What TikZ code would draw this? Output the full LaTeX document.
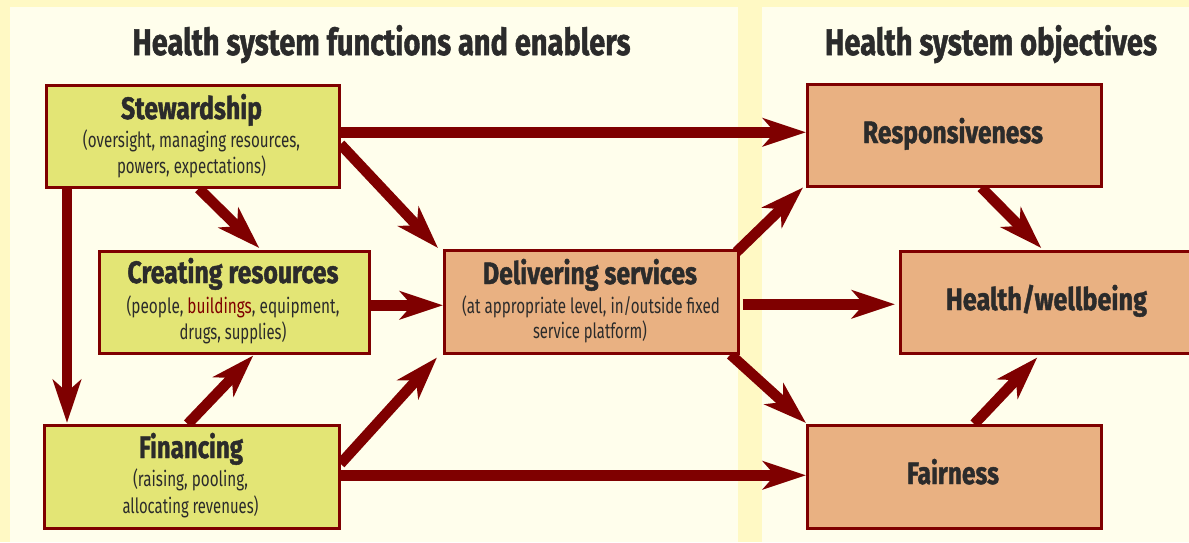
\documentclass[tikz,border=0pt]{standalone}
\usepackage{fontspec}
\setmainfont[BoldFeatures={FakeBold=1.5}]{Fira Sans}
\usetikzlibrary{arrows.meta,calc}
\definecolor{outerbg}{RGB}{255,249,196}
\definecolor{panelbg}{RGB}{255,254,236}
\definecolor{dkred}{RGB}{127,0,0}
\definecolor{yelbox}{RGB}{227,229,117}
\definecolor{orbox}{RGB}{233,177,130}
\definecolor{txt}{RGB}{43,43,43}
\pgfdeclarelayer{bg}
\pgfdeclarelayer{arr}
\pgfsetlayers{bg,arr,main}
\newsavebox\fitbx
\newlength\fitlen
\newcommand\fitw[2]{\sbox\fitbx{#2}\setlength\fitlen{\wd\fitbx}\pgfmathsetmacro\fitf{#1/\fitlen}\scalebox{\fitf}[1]{\usebox\fitbx}}
\begin{document}
\begin{tikzpicture}[x=1pt,y=-1pt,
  box/.style={draw=dkred, line width=2.5pt, inner sep=0pt, anchor=north west},
  ybox/.style={box, fill=yelbox},
  obox/.style={box, fill=orbox},
  conn/.style={draw=dkred, line width=10.5pt, -{Stealth[length=43pt,width=28pt,inset=12pt]}},
  ttl/.style={anchor=base, inner sep=0pt, text=txt, font=\fontsize{37}{40}\selectfont\bfseries},
  lbl/.style={anchor=base, inner sep=0pt, text=txt, font=\fontsize{31}{34}\selectfont\bfseries},
  sub/.style={anchor=base, inner sep=0pt, text=txt, font=\fontsize{21}{24}\selectfont},
]
\useasboundingbox (0,0) rectangle (1189,542);
\begin{pgfonlayer}{bg}
\fill[outerbg] (0,0) rectangle (1189,542);
\fill[panelbg] (10,7) rectangle (738,542);
\fill[panelbg] (762,7) rectangle (1189,542);
\end{pgfonlayer}

% boxes
\node[ybox, minimum width=293pt, minimum height=102pt] (stew) at (45,84) {};
\node[ybox, minimum width=270pt, minimum height=102pt] (creat) at (98,250) {};
\node[ybox, minimum width=295pt, minimum height=103pt] (fin) at (43,424) {};
\node[obox, minimum width=294pt, minimum height=103pt] (deliv) at (443,249) {};
\node[obox, minimum width=294pt, minimum height=102pt] (resp) at (806,83) {};
\node[obox, minimum width=296pt, minimum height=102pt] (health) at (899,250) {};
\node[obox, minimum width=294pt, minimum height=103pt] (fair) at (806,424) {};

% connectors
\begin{pgfonlayer}{arr}
\draw[conn] ($(stew.east)+(0,-4)$) -- ($(stew.east -| resp.west)+(0,-4)$);
\draw[conn] ($(stew.east)+(0,8)$) -- ($(deliv.north west)+(-5,-1)$);
\draw[conn] ($(stew.south)+(6,0)$) -- ($(creat.north)+(25,-2)$);
\draw[conn] ($(stew.south west)+(22,0)$) -- ($(stew.south west |- fin.north)+(22,-1)$);
\draw[conn] ($(creat.east)+(0,3)$) -- ($(creat.east -| deliv.west)+(0,3)$);
\draw[conn] ($(fin.north)+(-4,0)$) -- ($(creat.south)+(19,1)$);
\draw[conn] ($(fin.east)+(0,-13)$) -- ($(deliv.south west)+(-6,3)$);
\draw[conn] ($(fin.east)+(0,-1.5)$) -- ($(fin.east -| fair.west)+(0,-1.5)$);
\draw[conn] ($(deliv.north east)+(-3,3)$) -- ($(resp.south west)+(-3,0)$);
\draw[conn] ($(deliv.east)+(3,2.5)$) -- ($(deliv.east -| health.west)+(-4,2.5)$);
\draw[conn] ($(deliv.south east)+(-9,0)$) -- ($(fair.north west)+(0,-1)$);
\draw[conn] ($(resp.south)+(27,0)$) -- ($(health.north)+(-7,-2)$);
\draw[conn] ($(fair.north)+(20,0)$) -- ($(health.south)+(-11,3)$);
\end{pgfonlayer}

% texts
\node[ttl] (t1) at (381.5,55) {\fitw{498}{Health system functions and enablers}};
\node[ttl] (t2) at (991,55) {\fitw{332}{Health system objectives}};
\node[lbl] (stewl) at (191.5,119) {\fitw{141}{Stewardship}};
\node[sub] (stews1) at (191.5,147) {\fitw{217}{(oversight, managing resources,}};
\node[sub] (stews2) at (191.5,173) {\fitw{149}{powers, expectations)}};
\node[lbl] (creatl) at (233,283) {\fitw{211}{Creating resources}};
\node[sub] (creats1) at (233,313) {\fitw{213}{(people, \textcolor{dkred}{buildings}, equipment,}};
\node[sub] (creats2) at (233,339) {\fitw{107}{drugs, supplies)}};
\node[lbl] (finl) at (191,458) {\fitw{104}{Financing}};
\node[sub] (fins1) at (190.5,486) {\fitw{115}{(raising, pooling,}};
\node[sub] (fins2) at (190.5,513) {\fitw{136}{allocating revenues)}};
\node[lbl] (delivl) at (590,284) {\fitw{214}{Delivering services}};
\node[sub] (delivs1) at (591,313) {\fitw{258}{(at appropriate level, in/outside fixed}};
\node[sub] (delivs2) at (590,338) {\fitw{114}{service platform)}};
\node[lbl] (respl) at (953,143) {\fitw{180}{Responsiveness}};
\node[lbl] (healthl) at (1046.5,310) {\fitw{201}{Health/wellbeing}};
\node[lbl] (fairl) at (953,484) {\fitw{92}{Fairness}};
\end{tikzpicture}
\end{document}
